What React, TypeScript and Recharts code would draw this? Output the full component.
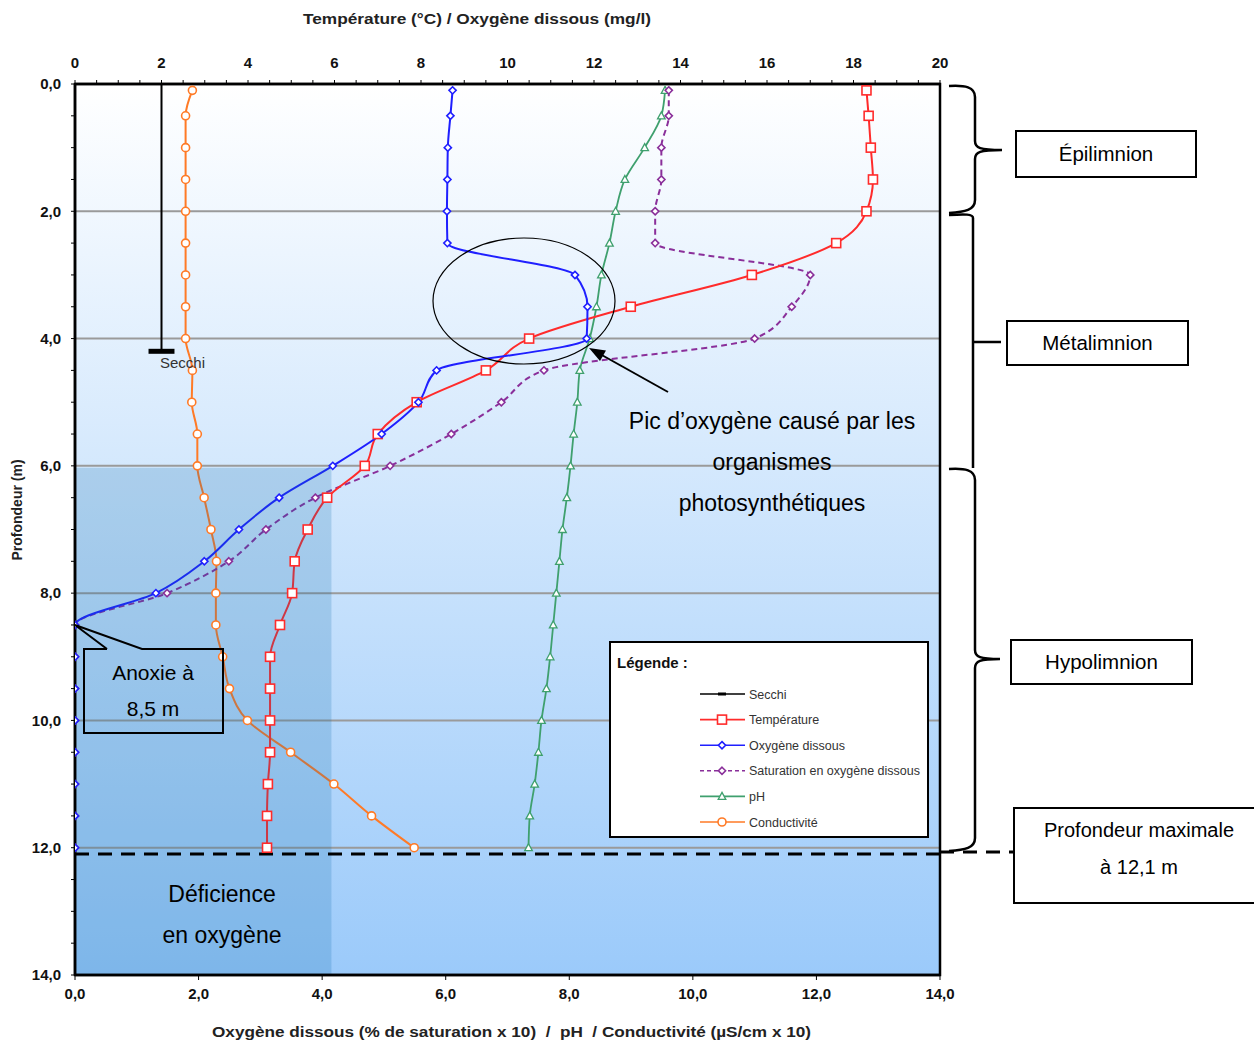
import React from "react";
import {
  ComposedChart,
  Line,
  XAxis,
  YAxis,
  ReferenceLine,
  ReferenceArea,
  Legend,
} from "recharts";

// profil vertical — profondeur (m)
const depths = [0.1, 0.5, 1, 1.5, 2, 2.5, 3, 3.5, 4, 4.5, 5, 5.5, 6, 6.5, 7, 7.5, 8, 8.5, 9, 9.5, 10, 10.5, 11, 11.5, 12];
// axe du haut (°C, mg/l)
const temperature = [18.3, 18.35, 18.4, 18.45, 18.3, 17.6, 15.65, 12.85, 10.5, 9.5, 7.9, 7.0, 6.7, 5.83, 5.38, 5.08, 5.02, 4.74, 4.51, 4.51, 4.51, 4.51, 4.46, 4.44, 4.44];
const oxygen = [8.73, 8.68, 8.62, 8.61, 8.6, 8.61, 11.56, 11.85, 11.83, 8.36, 7.94, 7.09, 5.96, 4.72, 3.79, 2.99, 1.87, 0, 0, 0, 0, 0, 0, 0, 0];
// axe du bas (% sat x 10, pH, µS/cm x 10)
const saturation = [9.61, 9.61, 9.49, 9.49, 9.39, 9.39, 11.9, 11.6, 11.0, 7.59, 6.9, 6.09, 5.1, 3.89, 3.09, 2.49, 1.49, 0, 0, 0, 0, 0, 0, 0, 0];
const ph = [9.55, 9.49, 9.22, 8.9, 8.75, 8.65, 8.52, 8.44, 8.33, 8.17, 8.13, 8.07, 8.02, 7.96, 7.89, 7.84, 7.79, 7.74, 7.69, 7.63, 7.55, 7.5, 7.44, 7.36, 7.34];
const conductivity = [1.9, 1.79, 1.79, 1.79, 1.79, 1.79, 1.79, 1.79, 1.79, 1.9, 1.89, 1.98, 1.98, 2.09, 2.2, 2.29, 2.28, 2.28, 2.39, 2.5, 2.79, 3.49, 4.19, 4.8, 5.49];

const topTicks = [0, 2, 4, 6, 8, 10, 12, 14, 16, 18, 20];
const bottomTicks = [0, 2, 4, 6, 8, 10, 12, 14];
const depthTicks = [0, 2, 4, 6, 8, 10, 12, 14];
const gridDepths = [2, 4, 6, 8, 10, 12];

const secchiReading = 2;
const secchiDepth = 4.2;
const maxDepth = 12.1;
const deficitTop = 6.03;
const deficitRight = 4.15;

const RED = "#ff2b2b";
const BLUE = "#1f1fff";
const PURPLE = "#8a2f9a";
const GREEN = "#3fa06e";
const ORANGE = "#ff7a26";
const FONT = "'Liberation Sans', Arial, sans-serif";

const rows = depths.map((depth, i) => ({
  depth,
  temperature: temperature[i],
  oxygen: oxygen[i],
  saturation: saturation[i],
  ph: ph[i],
  conductivity: conductivity[i],
}));

// petites graduations entre les grandes
const withMinor = (major: number[], parts: number) => {
  const out: number[] = [];
  for (let i = 0; i < major.length; i++) {
    out.push(major[i]);
    if (i < major.length - 1) {
      const step = (major[i + 1] - major[i]) / parts;
      for (let k = 1; k < parts; k++) out.push(major[i] + k * step);
    }
  }
  return out;
};

const fmt1 = (v: number) => v.toFixed(1).replace(".", ",");

function marker(shape: string, color: string, cx: number, cy: number, key?: string) {
  switch (shape) {
    case "square":
      return <rect key={key} x={cx - 4.5} y={cy - 4.5} width={9} height={9} fill="#fff" stroke={color} strokeWidth={1.6} />;
    case "diamond":
      return <path key={key} d={`M${cx},${cy - 3.6}L${cx + 3.6},${cy}L${cx},${cy + 3.6}L${cx - 3.6},${cy}Z`} fill="#fff" stroke={color} strokeWidth={1.6} />;
    case "triangle":
      return <path key={key} d={`M${cx},${cy - 4}L${cx + 3.8},${cy + 3}L${cx - 3.8},${cy + 3}Z`} fill="#fff" stroke={color} strokeWidth={1.3} />;
    case "circle":
      return <circle key={key} cx={cx} cy={cy} r={4} fill="#fff" stroke={color} strokeWidth={1.6} />;
    default:
      return <rect key={key} x={cx - 4} y={cy - 1.5} width={8} height={3} fill={color} />;
  }
}

const dotFor = (shape: string, color: string) => (p: any) => {
  const key = `${shape}-${p.dataKey}-${p.index}`;
  if (p.cx == null || p.cy == null) return <g key={key} />;
  return marker(shape, color, p.cx, p.cy, key);
};

const legendItems = [
  { label: "Secchi", color: "#000", shape: "bar", dashed: false },
  { label: "Température", color: RED, shape: "square", dashed: false },
  { label: "Oxygène dissous", color: BLUE, shape: "diamond", dashed: false },
  { label: "Saturation en oxygène dissous", color: PURPLE, shape: "diamond", dashed: true },
  { label: "pH", color: GREEN, shape: "triangle", dashed: false },
  { label: "Conductivité", color: ORANGE, shape: "circle", dashed: false },
];

function LegendBox() {
  return (
    <svg width={320} height={197} style={{ display: "block" }}>
      <rect x={1} y={1} width={318} height={195} fill="#fff" stroke="#000" strokeWidth={2} />
      <text x={8} y={27} fontFamily={FONT} fontWeight="bold" fontSize={15} fill="#111">
        Légende :
      </text>
      {legendItems.map((it, i) => {
        const y = 53 + i * 25.6;
        return (
          <g key={it.label}>
            <line x1={91} x2={136} y1={y} y2={y} stroke={it.color} strokeWidth={1.6} strokeDasharray={it.dashed ? "4 3" : undefined} />
            {marker(it.shape, it.color, 113, y)}
            <text x={140} y={y + 4.5} fontFamily={FONT} fontSize={12.5} fill="#333">
              {it.label}
            </text>
          </g>
        );
      })}
    </svg>
  );
}

function Brace({ top, bottom, tip, x, reach, straight }: any) {
  const left = 949;
  const d = straight
    ? `M${left},${top + 1} C${x - 8},${top} ${x},${top} ${x},${top + 4} L${x},${bottom} M${x},${tip} L${reach},${tip}`
    : `M${left},${top + 1} C${x - 10},${top} ${x},${top + 2} ${x},${top + 12} L${x},${tip - 9} C${x},${tip - 2} ${x + 5},${tip} ${reach},${tip} C${x + 5},${tip} ${x},${tip + 2} ${x},${tip + 9} L${x},${bottom - 12} C${x},${bottom - 2} ${x - 10},${bottom} ${left},${bottom + 1}`;
  return <path d={d} fill="none" stroke="#000" strokeWidth={2.5} />;
}

function LabelBox({ x, y, w, h, lines, size }: any) {
  return (
    <g>
      <rect x={x} y={y} width={w} height={h} fill="#fff" stroke="#000" strokeWidth={2} />
      {lines.map((t: string, i: number) => (
        <text key={t} x={x + w / 2} y={y + (lines.length === 1 ? h / 2 + 7 : 29 + i * 37)} textAnchor="middle" fontFamily={FONT} fontSize={size} fill="#000">
          {t}
        </text>
      ))}
    </g>
  );
}

function Annotations() {
  const arrowTip = [589, 348];
  return (
    <svg width={1254} height={1043} style={{ position: "absolute", left: 0, top: 0, pointerEvents: "none" }}>
      {/* titres d'axes */}
      <text x={303} y={24} textLength={348} lengthAdjust="spacingAndGlyphs" fontFamily={FONT} fontWeight="bold" fontSize={14} fill="#222">
        Température (°C) / Oxygène dissous (mg/l)
      </text>
      <text x={212} y={1037} textLength={599} lengthAdjust="spacingAndGlyphs" fontFamily={FONT} fontWeight="bold" fontSize={14} fill="#222" xmlSpace="preserve">
        Oxygène dissous (% de saturation x 10)  /  pH  / Conductivité (µS/cm x 10)
      </text>
      <text x={0} y={0} transform="translate(22,510) rotate(-90)" textAnchor="middle" fontFamily={FONT} fontWeight="bold" fontSize={14} fill="#222">
        Profondeur (m)
      </text>

      <text x={160} y={368} fontFamily={FONT} fontSize={15} fill="#333">Secchi</text>

      {/* pic d'oxygène */}
      <ellipse cx={524} cy={301} rx={91} ry={63} fill="none" stroke="#000" strokeWidth={1.2} />
      <line x1={668} y1={392} x2={600} y2={354} stroke="#000" strokeWidth={2} />
      <polygon points={`${arrowTip[0]},${arrowTip[1]} 606,350.5 600,361`} fill="#000" />
      {["Pic d’oxygène causé par les", "organismes", "photosynthétiques"].map((t, i) => (
        <text key={t} x={772} y={429 + i * 41} textAnchor="middle" fontFamily={FONT} fontSize={23} fill="#000">
          {t}
        </text>
      ))}

      {/* anoxie */}
      <path d="M107,649 L75,625 L142,649 L223,649 L223,733 L84,733 L84,649 L107,649" fill="none" stroke="#000" strokeWidth={2} />
      <text x={153} y={680} textAnchor="middle" fontFamily={FONT} fontSize={21} fill="#000">Anoxie à</text>
      <text x={153} y={716} textAnchor="middle" fontFamily={FONT} fontSize={21} fill="#000">8,5 m</text>

      <text x={222} y={902} textAnchor="middle" fontFamily={FONT} fontSize={23} fill="#000">Déficience</text>
      <text x={222} y={943} textAnchor="middle" fontFamily={FONT} fontSize={23} fill="#000">en oxygène</text>

      {/* couches */}
      <Brace top={85} bottom={212} tip={150} x={975} reach={1002} />
      <Brace top={214} bottom={468} tip={342} x={973} reach={1001} straight />
      <Brace top={468} bottom={850} tip={659} x={975} reach={1000} />
      <LabelBox x={1016} y={131} w={180} h={46} lines={["Épilimnion"]} size={20.5} />
      <LabelBox x={1007} y={321} w={181} h={44} lines={["Métalimnion"]} size={20.5} />
      <LabelBox x={1011} y={640} w={181} h={44} lines={["Hypolimnion"]} size={20.5} />
      <line x1={940} x2={1013} y1={852} y2={852} stroke="#000" strokeWidth={3} strokeDasharray="14 9" />
      <LabelBox x={1014} y={808} w={250} h={95} lines={["Profondeur maximale", "à 12,1 m"]} size={20} />
    </svg>
  );
}

export default function App() {
  const tickStyle = { fontFamily: FONT, fontWeight: "bold", fontSize: 15, fill: "#111" } as any;
  return (
    <div style={{ position: "relative", width: 1254, height: 1043, background: "#fff" }}>
      <style>{"body{margin:0}"}</style>
      <ComposedChart
        width={1254}
        height={1043}
        data={rows}
        layout="vertical"
        margin={{ top: 0, right: 314, bottom: 0, left: 0 }}
      >
        <defs>
          <linearGradient id="waterBg" x1="0" y1="0" x2="0" y2="1">
            <stop offset="0%" stopColor="#ffffff" />
            <stop offset="100%" stopColor="#9bcafa" />
          </linearGradient>
        </defs>
        <XAxis
          xAxisId="top"
          orientation="top"
          type="number"
          domain={[0, 20]}
          ticks={withMinor(topTicks, 4)}
          tickFormatter={(v: number) => (v % 2 === 0 ? String(v) : "")}
          height={84}
          tick={tickStyle}
          tickSize={4}
          tickMargin={12}
          axisLine={{ stroke: "#000", strokeWidth: 2.5 }}
          tickLine={{ stroke: "#000" }}
          allowDataOverflow
        />
        <XAxis
          xAxisId="bottom"
          orientation="bottom"
          type="number"
          domain={[0, 14]}
          ticks={bottomTicks}
          tickFormatter={fmt1}
          height={68}
          tick={tickStyle}
          tickSize={5}
          tickMargin={8}
          axisLine={{ stroke: "#000", strokeWidth: 2.5 }}
          tickLine={{ stroke: "#000" }}
          allowDataOverflow
        />
        <YAxis
          yAxisId="d"
          dataKey="depth"
          type="number"
          domain={[0, 14]}
          ticks={withMinor(depthTicks, 4)}
          tickFormatter={(v: number) => (v % 2 === 0 ? fmt1(v) : "")}
          width={75}
          tick={tickStyle}
          tickSize={4}
          tickMargin={10}
          axisLine={{ stroke: "#000", strokeWidth: 2.5 }}
          tickLine={{ stroke: "#000" }}
          allowDataOverflow
        />

        <ReferenceArea xAxisId="top" yAxisId="d" x1={0} x2={20} y1={0} y2={14} fill="url(#waterBg)" fillOpacity={1} stroke="none" />
        {gridDepths.map((d) => (
          <ReferenceLine key={d} xAxisId="top" yAxisId="d" y={d} stroke="#9a9a9a" strokeWidth={2} />
        ))}

        <ReferenceLine xAxisId="top" yAxisId="d" segment={[{ x: secchiReading, y: 0 }, { x: secchiReading, y: secchiDepth }]} stroke="#000" strokeWidth={2} />
        <ReferenceLine xAxisId="top" yAxisId="d" segment={[{ x: secchiReading - 0.3, y: secchiDepth }, { x: secchiReading + 0.3, y: secchiDepth }]} stroke="#000" strokeWidth={5} />

        <Line xAxisId="bottom" yAxisId="d" dataKey="conductivity" name="Conductivité" type="monotone" stroke={ORANGE} strokeWidth={2} dot={dotFor("circle", ORANGE)} activeDot={false} isAnimationActive={false} />
        <Line xAxisId="bottom" yAxisId="d" dataKey="ph" name="pH" type="monotone" stroke={GREEN} strokeWidth={1.8} dot={dotFor("triangle", GREEN)} activeDot={false} isAnimationActive={false} />
        <Line xAxisId="bottom" yAxisId="d" dataKey="saturation" name="Saturation en oxygène dissous" type="monotone" stroke={PURPLE} strokeWidth={2} strokeDasharray="6 4" dot={dotFor("diamond", PURPLE)} activeDot={false} isAnimationActive={false} />
        <Line xAxisId="top" yAxisId="d" dataKey="temperature" name="Température" type="monotone" stroke={RED} strokeWidth={2} dot={dotFor("square", RED)} activeDot={false} isAnimationActive={false} />
        <Line xAxisId="top" yAxisId="d" dataKey="oxygen" name="Oxygène dissous" type="monotone" stroke={BLUE} strokeWidth={2} dot={dotFor("diamond", BLUE)} activeDot={false} isAnimationActive={false} />

        <ReferenceArea xAxisId="bottom" yAxisId="d" x1={0} x2={deficitRight} y1={deficitTop} y2={14} fill="#0a6aa8" fillOpacity={0.2} stroke="none" zIndex={450} />
        <ReferenceLine xAxisId="top" yAxisId="d" y={maxDepth} stroke="#000" strokeWidth={3} strokeDasharray="14 9" zIndex={460} />
        <ReferenceArea xAxisId="top" yAxisId="d" x1={0} x2={20} y1={0} y2={14} fill="none" stroke="#000" strokeWidth={2.5} zIndex={470} />

        <Legend
          layout="vertical"
          align="center"
          verticalAlign="middle"
          content={() => <LegendBox />}
          wrapperStyle={{ position: "absolute", left: 609, top: 641, width: 320, height: 197 }}
        />
      </ComposedChart>
      <Annotations />
    </div>
  );
}
